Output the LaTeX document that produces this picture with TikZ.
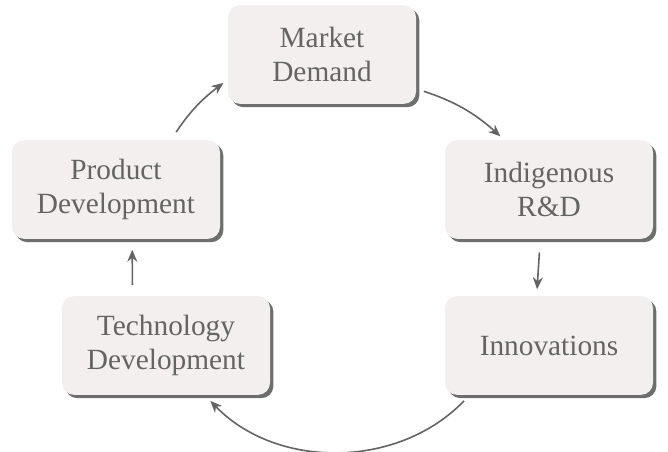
\documentclass[tikz,border=0pt]{standalone}
\usepackage{fontspec}
\setmainfont{Liberation Serif}
\usetikzlibrary{arrows.meta, shadows}

\definecolor{boxfill}{HTML}{F3EFEF}
\definecolor{boxshade}{HTML}{6E6E6E}
\definecolor{inkgray}{HTML}{646464}

\begin{document}
\begin{tikzpicture}[
            x=0.75pt, y=-0.75pt,
            >={Stealth[length=9pt, width=7.5pt]},
            stage/.style={
                rectangle, rounded corners=9pt,
                minimum width=156pt, minimum height=74pt,
                fill=boxfill, text=inkgray, align=center,
                font=\fontsize{22}{26}\selectfont,
                general shadow={fill=boxshade, shadow xshift=2.5pt, shadow yshift=-2.5pt}
            },
            flow/.style={->, draw=inkgray, line width=1.2pt}
        ]
            \useasboundingbox (0,0) rectangle (668,452);

            \node[stage, minimum width=141pt] (market) at (322,54.5) {Market\\Demand};
            \node[stage] (indig) at (549,189.5) {Indigenous\\R\&D};
            \node[stage] (innov) at (549,345.5) {Innovations};
            \node[stage] (tech) at (166,345.5) {Technology\\Development};
            \node[stage] (prod) at (116,189.5) {Product\\Development};

            \draw[flow, shorten <=6pt, shorten >=4pt] (market.-20) to[bend left=12] (indig.132);
            \draw[flow, shorten <=10pt, shorten >=5pt] (indig.-100) -- (innov.104);
            \draw[flow, shorten <=6pt, shorten >=6pt] (innov.-148) to[bend left=46] (tech.-52);
            \draw[flow, shorten <=8pt, shorten >=8pt] (tech.124) -- (prod.-72);
            \draw[flow, shorten <=7pt, shorten >=4pt] (prod.42) to[bend left=10] (market.195);
        \end{tikzpicture}
\end{document}
